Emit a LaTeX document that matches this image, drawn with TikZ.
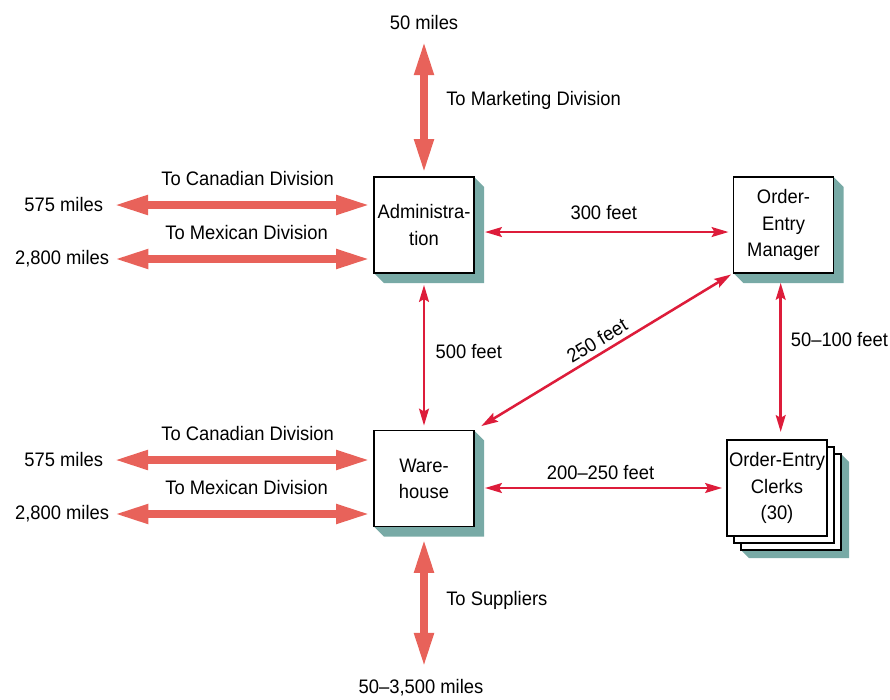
\documentclass[tikz,border=0pt]{standalone}
\usepackage{fontspec}
\setmainfont[FakeStretch=0.94]{Liberation Sans}
\usetikzlibrary{arrows.meta,calc,backgrounds}
\definecolor{boxshade}{RGB}{120,170,166}
\definecolor{widered}{RGB}{232,98,90}
\definecolor{linkred}{RGB}{221,28,58}

\begin{document}
\begin{tikzpicture}[x=0.025cm,y=-0.025cm,font=\fontsize{13.9}{18.6}\selectfont]
\tikzstyle{office}=[draw,line width=0.9pt,fill=white,minimum width=2.5cm,minimum height=2.4cm,align=center,inner sep=0pt,outer sep=0pt]
\tikzstyle{bigarr}=[draw=widered,line width=5pt,{Triangle[length=24pt,width=13pt]}-{Triangle[length=24pt,width=13pt]}]
\tikzstyle{smallarr}=[draw=linkred,line width=1.8pt,{Stealth[length=12pt,width=7pt,inset=2pt]}-{Stealth[length=12pt,width=7pt,inset=2pt]}]
\useasboundingbox (0,0) rectangle (890,699);
\node[office] (adm) at (424,225) {Administra-\\tion};
\node[office] (mgr) at (783.5,225) {Order-\\Entry\\Manager};
\node[office] (wh) at (424,478.5) {Ware-\\house};
\node[office] (clk3) at (791,502) {};
\node[office] (clk2) at (784,495) {};
\node[office] (clk) at (777,488) {Order-Entry\\Clerks\\(30)};
\begin{scope}[on background layer]
\foreach \n/\d in {adm/10,mgr/10,wh/10,clk3/8}
  \fill[boxshade] (\n.north east) -- ++(\d,\d) -- ($(\n.south east)+(\d,\d)$) -- ($(\n.south west)+(\d,\d)$) -- (\n.south west) -- cycle;
\end{scope}
\node (t50) at (424,23) {50 miles};
\node (b3500) at (421,688) {50--3,500 miles};
\node[anchor=east] (ca1) at (108,205) {575 miles};
\node[anchor=east] (mx1) at (114,259) {2,800 miles};
\node[anchor=east] (ca2) at (108,460) {575 miles};
\node[anchor=east] (mx2) at (114,514) {2,800 miles};
\draw[bigarr,shorten <=4.5pt,shorten >=3pt] (t50.south) -- node[right=10pt,pos=0.46]{To Marketing Division} (adm.north);
\draw[bigarr,shorten <=9pt,shorten >=5.7pt] (wh.south) -- node[right=10pt]{To Suppliers} (wh.south |- b3500.north);
\draw[bigarr,shorten <=4.5pt,shorten >=3pt] (ca1.east) -- node[above=8pt,pos=0.525]{To Canadian Division} (adm.west |- ca1.east);
\draw[bigarr,shorten <=0.5pt,shorten >=3pt] (mx1.east) -- node[above=8pt,pos=0.51]{To Mexican Division} (adm.west |- mx1.east);
\draw[bigarr,shorten <=4.5pt,shorten >=3pt] (ca2.east) -- node[above=8pt,pos=0.525]{To Canadian Division} (wh.west |- ca2.east);
\draw[bigarr,shorten <=0.5pt,shorten >=3pt] (mx2.east) -- node[above=8pt,pos=0.51]{To Mexican Division} (wh.west |- mx2.east);
\draw[smallarr,shorten <=7.8pt,shorten >=3.5pt] ([yshift=-5pt]adm.east) -- node[above=4.5pt]{300 feet} ([yshift=-5pt]mgr.west);
\draw[smallarr,shorten <=8.5pt,shorten >=3.5pt] (adm.south) -- node[right=4pt]{500 feet} (wh.north);
\draw[smallarr,shorten <=7pt,shorten >=5.7pt] ([xshift=-2pt]mgr.south) -- node[right=3pt,pos=0.4]{50--100 feet} ([xshift=-2pt]mgr.south |- clk.north);
\draw[smallarr,shorten <=7.8pt,shorten >=3.5pt] (wh.east |- clk.west) -- node[above=2pt]{200--250 feet} (clk.west);
\draw[smallarr,shorten <=6pt,shorten >=2pt] (wh.north east) -- node[above=0pt,sloped]{250 feet} (mgr.south west);
\end{tikzpicture}
\end{document}
